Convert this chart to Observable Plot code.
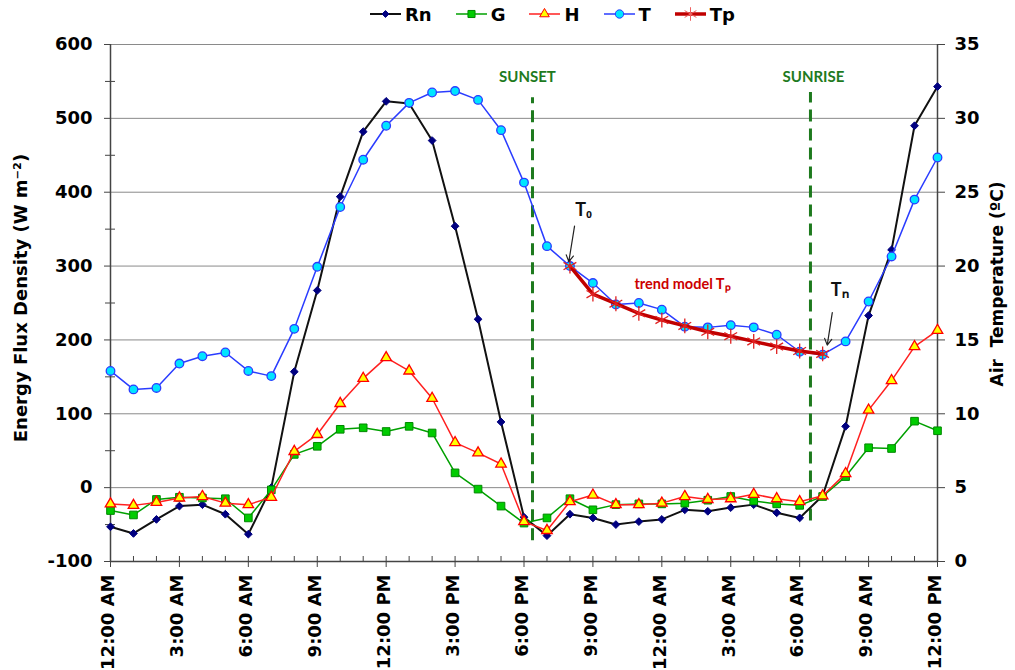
<!DOCTYPE html>
<html><head><meta charset="utf-8">
<script src="https://cdn.jsdelivr.net/npm/d3@7"></script>
<script src="https://cdn.jsdelivr.net/npm/@observablehq/plot@0.6"></script>
<style>
body{margin:0;background:#fff;}
#legend{height:28px;display:flex;align-items:center;padding-left:370px;font-family:"DejaVu Sans";font-weight:bold;font-size:18px;}
#legend .item{display:flex;align-items:center;margin-right:24px;}
#legend svg{margin-right:4px;}
</style></head><body>
<div id="legend"></div><div id="chart"></div>
<script>
// ---- data ----
const hours = d3.range(0, 37);               // hours since midnight (36 h window)
const majorHours = [0,3,6,9,12,15,18,21,24,27,30,33,36];
const tickLabels = ["12:00 AM","3:00 AM","6:00 AM","9:00 AM","12:00 PM","3:00 PM","6:00 PM","9:00 PM","12:00 AM","3:00 AM","6:00 AM","9:00 AM","12:00 PM"];
const fluxTicks = [-100,0,100,200,300,400,500,600];
const fluxMinor = [-50,50,150,250,350,450,550];
const gridVals = [0,100,200,300,400,500,600];
const tempTicks = [0,5,10,15,20,25,30,35];

const rn = [-53,-62,-43,-25,-23,-36,-63,0,157,267,394,482,523,520,470,354,228,89,-40,-65,-36,-41,-50,-46,-43,-30,-32,-27,-23,-34,-41,-11,83,233,322,490,543];
const g  = [-31,-37,-16,-13,-14,-15,-41,-3,45,56,79,81,76,83,74,20,-2,-25,-48,-41,-15,-30,-23,-22,-22,-21,-17,-12,-18,-22,-24,-12,15,54,53,90,77];
const h  = [-22,-24,-20,-14,-12,-21,-23,-13,49,72,114,148,176,158,121,61,47,32,-46,-58,-19,-10,-23,-23,-21,-12,-16,-15,-9,-15,-19,-11,19,105,145,191,213];
const tAir = [12.9,11.65,11.75,13.4,13.9,14.15,12.9,12.55,15.75,19.95,24.0,27.2,29.5,31.05,31.75,31.85,31.25,29.2,25.65,21.35,20.0,18.85,17.4,17.5,17.05,15.9,15.85,16.0,15.85,15.35,14.2,14.0,14.9,17.6,20.65,24.5,27.35];
const tpHours = [20,21,22,23,24,25,26,27,28,29,30,31];
const tp = [20.0,18.1,17.45,16.8,16.35,15.95,15.55,15.25,14.9,14.55,14.25,14.05];

const events = [
  {name:"SUNSET", hour:18.37, y1:-72, y2:528, labelHour:18.15, labelY:556},
  {name:"SUNRISE", hour:30.47, y1:-45, y2:535, labelHour:30.6, labelY:556}
];
const notes = [
  {text:"T₀", hour:20.6, val:375, color:"#111", size:18},
  {text:"Tₙ", hour:31.74, val:267, color:"#111", size:18},
  {text:"trend model Tₚ", hour:24.9, val:275, color:"#cc0000", size:14.5}
];
const arrows = [
  {x1:20.2, y1:354, x2:19.95, y2:306},
  {x1:31.42, y1:237, x2:31.2, y2:193}
];

// temperature (secondary axis, 0..35 °C) mapped onto flux axis (-100..600)
const toFlux = t => t * 20 - 100;
const rows = hours.map((hr, i) => ({hour: hr, Rn: rn[i], G: g[i], H: h[i], T: toFlux(tAir[i])}));
const tpRows = tpHours.map((hr, i) => ({hour: hr, Tp: toFlux(tp[i])}));

// ---- legend ----
const legendItems = [
  {name:"Rn", stroke:"#111", w:2, marker:"diamond", fill:"#000080", mstroke:"#000080"},
  {name:"G", stroke:"#00a000", w:1.5, marker:"square", fill:"#00cc00", mstroke:"#008800"},
  {name:"H", stroke:"#ff2020", w:1.5, marker:"triangle", fill:"#ffff00", mstroke:"#ff0000"},
  {name:"T", stroke:"#2a3cff", w:1.5, marker:"circle", fill:"#00e5ff", mstroke:"#2a3cff"},
  {name:"Tp", stroke:"#c00000", w:3.5, marker:"star", fill:"none", mstroke:"#f06060"}
];
const leg = d3.select("#legend");
for (const it of legendItems) {
  const item = leg.append("div").attr("class","item");
  const s = item.append("svg").attr("width",31).attr("height",16);
  s.append("line").attr("x1",0).attr("x2",31).attr("y1",8).attr("y2",8).attr("stroke",it.stroke).attr("stroke-width",it.w);
  const sym = {diamond:d3.symbolDiamond2, square:d3.symbolSquare, triangle:d3.symbolTriangle, circle:d3.symbolCircle, star:d3.symbolAsterisk}[it.marker];
  const size = {diamond:30, square:50, triangle:40, circle:55, star:130}[it.marker];
  s.append("path").attr("transform","translate(15.5,8)").attr("d", d3.symbol(sym, size)())
    .attr("fill", it.fill).attr("stroke", it.mstroke).attr("stroke-width", 1);
  item.append("span").text(it.name);
}

// ---- chart ----
const plot = Plot.plot({
  width: 1015, height: 642,
  marginLeft: 110, marginRight: 78, marginTop: 16, marginBottom: 109,
  x: {domain: [0, 36]},
  y: {domain: [-100, 600]},
  style: {fontFamily: "DejaVu Sans", fontSize: "18px", fontWeight: "bold", color: "#000", background: "#fff", overflow: "visible"},
  marks: [
    Plot.ruleY(gridVals, {stroke: "#8a8a8a", strokeWidth: 1}),
    Plot.ruleY([-100], {stroke: "#444", strokeWidth: 1.5}),
    Plot.ruleX([0, 36], {stroke: "#444", strokeWidth: 1.5}),
    // x axis
    Plot.axisX(hours, {tickSize: -5, tickFormat: () => "", label: null, stroke: "#444"}),
    Plot.axisX(majorHours, {tickSize: 6, tickFormat: () => "", label: null, stroke: "#444"}),
    Plot.axisX(majorHours, {tickSize: 0, tickPadding: 13, tickRotate: -90, dx: -2, tickFormat: d => tickLabels[majorHours.indexOf(d)], label: null}),
    // left axis
    Plot.axisY(fluxMinor, {anchor: "left", tickSize: 5, tickFormat: () => "", label: null, stroke: "#444"}),
    Plot.axisY(fluxMinor, {anchor: "left", tickSize: -5, tickFormat: () => "", label: null, stroke: "#444"}),
    Plot.axisY(fluxTicks, {anchor: "left", tickSize: 6, tickPadding: 12, tickFormat: d => String(d), label: null, stroke: "#444"}),
    // right axis (temperature)
    Plot.axisY(tempTicks.map(toFlux), {anchor: "right", tickSize: 7, tickPadding: 10, tickFormat: d => String((d + 100) / 20), label: null, stroke: "#444"}),
    // axis titles
    Plot.text(["Energy Flux Density (W m⁻²)"], {text: d => d, frameAnchor: "left", textAnchor: "middle", dx: -89, dy: -5, rotate: -90, fontSize: 18, fontWeight: "bold"}),
    Plot.text(["Air  Temperature (ºC)"], {text: d => d, frameAnchor: "right", textAnchor: "middle", dx: 60, dy: -19, rotate: -90, fontSize: 17, fontWeight: "bold"}),
    // sunset / sunrise
    Plot.ruleX(events, {x: "hour", y1: "y1", y2: "y2", stroke: "#1e7a1e", strokeWidth: 3, strokeDasharray: "12,7"}),
    Plot.text(events, {x: "labelHour", y: "labelY", text: "name", fill: "#1e7a1e", fontFamily: "Lato", fontWeight: "bold", fontSize: 15}),
    // series
    Plot.line(rows, {x: "hour", y: "Rn", stroke: "#111", strokeWidth: 2}),
    Plot.dot(rows, {x: "hour", y: "Rn", symbol: "diamond2", r: 3.5, fill: "#000080", stroke: "#000080", strokeWidth: 1}),
    Plot.line(rows, {x: "hour", y: "G", stroke: "#00a000", strokeWidth: 1.5}),
    Plot.dot(rows, {x: "hour", y: "G", symbol: "square", r: 4.3, fill: "#00cc00", stroke: "#008800", strokeWidth: 1}),
    Plot.line(rows, {x: "hour", y: "H", stroke: "#ff2020", strokeWidth: 1.5}),
    Plot.dot(rows, {x: "hour", y: "H", symbol: "triangle", r: 3.9, fill: "#ffff00", stroke: "#ff0000", strokeWidth: 1.3}),
    Plot.line(rows, {x: "hour", y: "T", stroke: "#2a3cff", strokeWidth: 1.5}),
    Plot.dot(rows, {x: "hour", y: "T", symbol: "circle", r: 4.3, fill: "#00e5ff", stroke: "#2a3cff", strokeWidth: 1.3}),
    Plot.line(tpRows, {x: "hour", y: "Tp", stroke: "#c00000", strokeWidth: 3.5}),
    Plot.dot(tpRows, {x: "hour", y: "Tp", symbol: "asterisk", r: 7, stroke: "#e02020", strokeWidth: 1.3}),
    // annotations
    Plot.arrow(arrows, {x1: "x1", y1: "y1", x2: "x2", y2: "y2", stroke: "#222", strokeWidth: 1.2, headLength: 9}),
    Plot.text(notes, {x: "hour", y: "val", text: "text", fill: "color", fontSize: "size", fontFamily: "Lato", fontWeight: "bold"})
  ]
});
document.getElementById("chart").appendChild(plot);
</script>
</body></html>
